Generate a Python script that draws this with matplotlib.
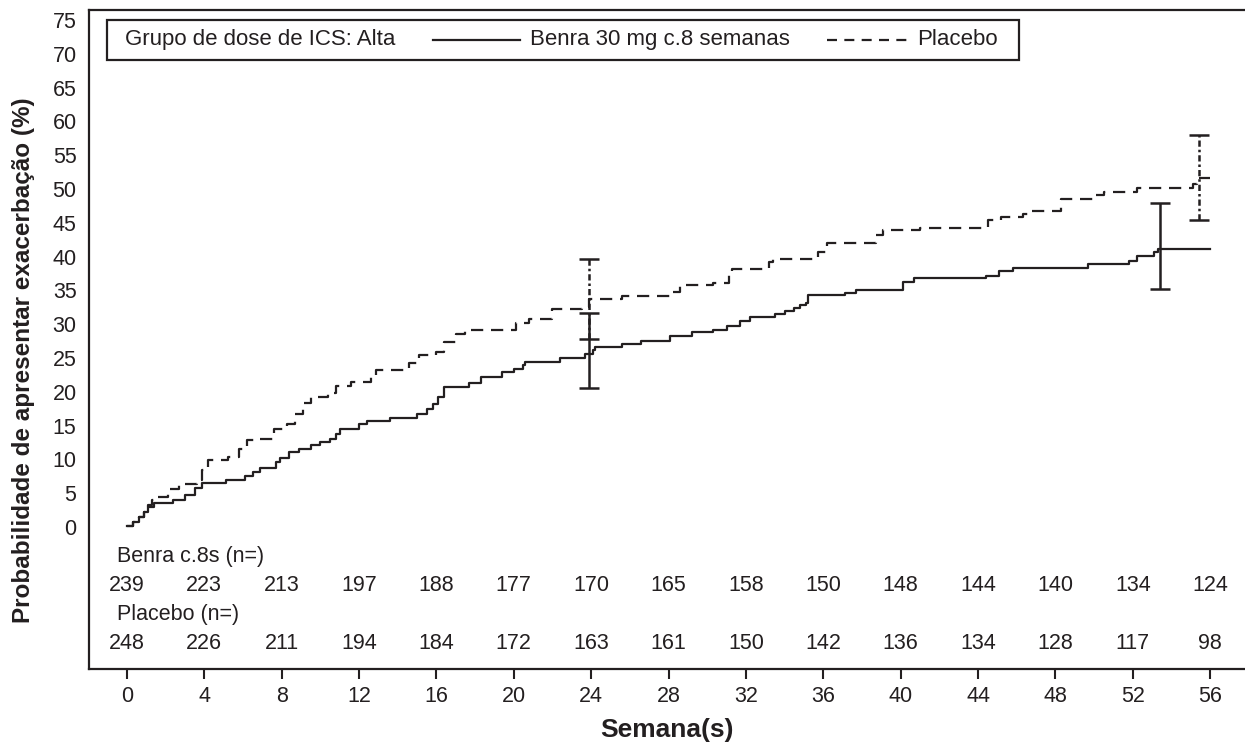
import matplotlib
matplotlib.use('Agg')
import matplotlib.pyplot as plt
from matplotlib.offsetbox import AnchoredOffsetbox, HPacker, TextArea, DrawingArea
from matplotlib.lines import Line2D

plt.rcParams['font.family'] = ['Liberation Sans', 'DejaVu Sans']

# curvas de Kaplan-Meier (semana, % com exacerbação)
benra_sem = [0, 0.3, 0.6, 0.9, 1.1, 1.4, 2.4, 3.0, 3.5, 3.9, 5.1, 6.1, 6.5, 6.9, 7.7, 7.9,
             8.4, 8.9, 9.5, 10.0, 10.5, 10.8, 11.0, 12.0, 12.4, 13.6, 15.0, 15.5, 15.8, 16.1,
             16.4, 17.7, 18.3, 19.4, 20.0, 20.5, 20.6, 22.4, 23.7, 24.1, 24.2, 25.6, 26.6,
             28.1, 29.2, 30.3, 31.0, 31.7, 32.2, 33.5, 34.0, 34.5, 34.8, 35.1, 35.2, 37.1,
             37.7, 40.1, 40.7, 44.4, 45.1, 45.8, 49.7, 51.8, 52.2, 53.1, 53.3, 56.0]
benra_pct = [0.2, 0.8, 1.5, 2.3, 3.0, 3.6, 4.0, 4.7, 5.8, 6.5, 7.0, 7.6, 8.1, 8.8, 9.6, 10.2,
             11.1, 11.6, 12.1, 12.6, 13.1, 13.8, 14.5, 15.2, 15.7, 16.2, 16.8, 17.4, 18.2, 19.3,
             20.7, 21.3, 22.2, 23.0, 23.4, 24.0, 24.4, 25.0, 25.6, 26.2, 26.6, 27.1, 27.6,
             28.3, 28.8, 29.2, 29.7, 30.5, 31.1, 31.5, 32.0, 32.4, 32.8, 33.2, 34.3, 34.6,
             35.0, 36.2, 36.8, 37.2, 37.9, 38.4, 38.9, 39.4, 40.1, 40.7, 41.2, 41.2]

placebo_sem = [0, 0.3, 0.6, 0.9, 1.1, 1.3, 1.5, 2.1, 2.7, 3.6, 3.9, 4.2, 5.2, 5.8, 6.2, 6.6,
               7.6, 8.3, 8.7, 9.1, 9.5, 10.4, 10.8, 11.6, 12.6, 12.9, 14.6, 15.1, 16.0, 16.4,
               17.0, 17.5, 20.1, 20.8, 22.0, 23.5, 23.9, 25.6, 28.2, 28.6, 30.3, 31.1, 31.3,
               33.2, 33.4, 35.7, 36.2, 38.7, 39.1, 41.0, 44.5, 45.2, 46.3, 46.7, 48.3, 50.1,
               50.5, 52.2, 55.1, 55.3, 56.0]
placebo_pct = [0.2, 0.8, 1.5, 2.3, 3.2, 4.0, 4.5, 5.6, 6.4, 7.0, 8.5, 9.9, 10.3, 11.5, 12.9, 13.1,
               14.5, 15.3, 16.8, 18.3, 19.3, 19.8, 20.8, 21.5, 22.2, 23.2, 24.2, 25.4, 25.9, 27.4,
               28.6, 29.1, 30.2, 30.8, 32.2, 32.6, 33.7, 34.2, 34.8, 35.8, 36.1, 37.8, 38.2,
               39.2, 39.7, 40.7, 42.0, 43.2, 43.9, 44.3, 45.4, 45.9, 46.3, 46.8, 48.6, 49.1,
               49.5, 50.2, 50.8, 51.6, 51.6]

# IC 95%
benra_ic_sem = [23.9, 53.4]
benra_ic_est = [25.6, 41.2]
benra_ic_inf = [20.5, 35.2]
benra_ic_sup = [31.7, 47.9]
placebo_ic_sem = [23.9, 55.4]
placebo_ic_est = [33.7, 51.6]
placebo_ic_inf = [27.8, 45.4]
placebo_ic_sup = [39.6, 58.0]

# doentes em risco
semanas = list(range(0, 57, 4))
n_benra = [239, 223, 213, 197, 188, 177, 170, 165, 158, 150, 148, 144, 140, 134, 124]
n_placebo = [248, 226, 211, 194, 184, 172, 163, 161, 150, 142, 136, 134, 128, 117, 98]

cor = '#231f20'
fs = 15.5
fs_leg = 16

fig = plt.figure(figsize=(12.45, 7.44), dpi=100)
ax = fig.add_axes([0.0715, 0.1008, 0.9285, 0.8858])

ax.step(benra_sem, benra_pct, where='post', color=cor, lw=1.6)
ax.step(placebo_sem, placebo_pct, where='post', color=cor, lw=1.6, dashes=(5.5, 3.5))

# barras de erro
eb = ax.errorbar(benra_ic_sem, benra_ic_est,
                 yerr=[[e - l for e, l in zip(benra_ic_est, benra_ic_inf)],
                       [u - e for e, u in zip(benra_ic_est, benra_ic_sup)]],
                 fmt='none', ecolor=cor, elinewidth=1.8, capsize=7.5, capthick=1.8)
eb2 = ax.errorbar(placebo_ic_sem, placebo_ic_est,
                  yerr=[[e - l for e, l in zip(placebo_ic_est, placebo_ic_inf)],
                        [u - e for e, u in zip(placebo_ic_est, placebo_ic_sup)]],
                  fmt='none', ecolor=cor, elinewidth=1.8, capsize=7.5, capthick=1.8)
eb2[2][0].set_linestyle((0, (2.5, 1.2, 1, 1.2)))

# tabela de doentes em risco
ax.text(-0.5, -4.4, 'Benra c.8s (n=)', fontsize=fs, color=cor, ha='left', va='center')
ax.text(-0.5, -13.0, 'Placebo (n=)', fontsize=fs, color=cor, ha='left', va='center')
for s, n in zip(semanas, n_benra):
    ax.text(s, -8.6, str(n), fontsize=fs, color=cor, ha='center', va='center')
for s, n in zip(semanas, n_placebo):
    ax.text(s, -17.3, str(n), fontsize=fs, color=cor, ha='center', va='center')

ax.set_xlim(-1.96, 57.8)
ax.set_ylim(-21.0, 76.5)
ax.set_xticks(semanas)
ax.set_yticks(range(0, 80, 5))
ax.tick_params(axis='x', direction='out', length=7, width=1.5, pad=5, labelsize=fs, colors=cor)
ax.tick_params(axis='y', length=0, pad=9, labelsize=fs, colors=cor)
ax.spines['right'].set_visible(False)
for s in ['left', 'top', 'bottom']:
    ax.spines[s].set_linewidth(1.6)
    ax.spines[s].set_color(cor)

ax.set_xlabel('Semana(s)', fontsize=19, fontweight='bold', color=cor, labelpad=8)
ax.set_ylabel('Probabilidade de apresentar exacerbação (%)', fontsize=17.5,
              fontweight='bold', color=cor)
ax.yaxis.set_label_coords(-0.0467, 0.469)

# legenda
def amostra(w, dashes=None):
    da = DrawingArea(w, 10)
    ln = Line2D([0, w], [5, 5], color=cor, lw=1.6)
    if dashes:
        ln.set_dashes(dashes)
    da.add_artist(ln)
    return da

tp = dict(fontsize=fs_leg, color=cor)
sep = 27
itens = [DrawingArea(6, 1),
         TextArea('Grupo de dose de ICS: Alta', textprops=tp),
         HPacker(children=[amostra(63), TextArea('Benra 30 mg c.8 semanas', textprops=tp)],
                 align='center', pad=0, sep=7),
         HPacker(children=[amostra(57.5, (4.5, 3.3)), TextArea('Placebo', textprops=tp)],
                 align='center', pad=0, sep=7),
         DrawingArea(9, 1)]
caixa = HPacker(children=itens, align='center', pad=0, sep=sep)
# o primeiro e o último separadores não devem somar o 'sep' completo
itens[0].width = 6 - sep + 0.01
itens[-1].width = 9 - sep + 0.01
leg = AnchoredOffsetbox(loc='upper left', child=caixa, pad=0.42, borderpad=0,
                        frameon=True, bbox_to_anchor=(0.0156, 0.985),
                        bbox_transform=ax.transAxes, prop=dict(size=fs_leg))
leg.patch.set_linewidth(1.6)
leg.patch.set_edgecolor(cor)
leg.patch.set_boxstyle('square', pad=0)
ax.add_artist(leg)

fig.savefig('out.png', dpi=100)
